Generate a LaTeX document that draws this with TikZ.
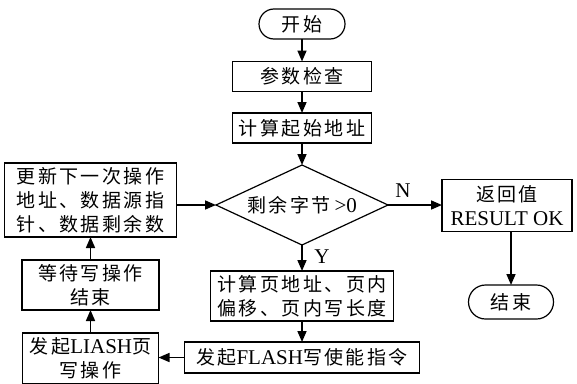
\documentclass[tikz,border=0pt]{standalone}
\usepackage{fontspec}
\setmainfont{Liberation Serif}
\newfontfamily\cjkfont[LetterSpace=13]{Noto Sans CJK SC}
\usetikzlibrary{arrows.meta,shapes.geometric}
% Latin runs inside the Chinese labels
\newcommand\lat[1]{{\rmfamily\fontsize{21}{24}\selectfont #1}}

\begin{document}
\begin{tikzpicture}[x=1pt,y=-1pt,
  every node/.style={font=\fontsize{19}{24}\selectfont\cjkfont, inner sep=0pt, outer sep=0pt},
  box/.style={draw, line width=1.2pt, align=center},
  term/.style={draw, line width=1.2pt},
  dia/.style={draw, line width=1.2pt, diamond, aspect=2.15},
  arr/.style={-{Triangle[length=11pt,width=9pt]}, line width=1.6pt}]
\useasboundingbox (0,0) rectangle (577,383);

% main column
\node[term, minimum width=86pt, minimum height=30pt, rounded corners=15pt] (start) at (302,24) {开始};
\node[box, minimum width=139pt, minimum height=30pt] (chk) at (302,76.5) {参数检查};
\node[box, minimum width=139pt, minimum height=30pt] (addr) at (302,128) {计算起始地址};
\node[dia, minimum width=172pt, minimum height=80pt] (dec) at (302,205) {剩余字节\hspace{4pt}\lat{>0}};
\node[box, minimum width=183pt, minimum height=50pt] (calc) at (302,296) {计算页地址、页内\\偏移、页内写长度};
\node[box, minimum width=235pt, minimum height=31pt] (wren) at (302,357.5) {发起\lat{FLASH}写使能指令};

% loop column
\node[box, minimum width=136pt, minimum height=51pt] (prog) at (90.5,358.5) {发起\lat{LIASH}页\\写操作};
\node[box, minimum width=137pt, minimum height=50pt] (wait) at (90.5,285) {等待写操作\\结束};
\node[box, minimum width=172pt, minimum height=74pt] (upd) at (90.5,200) {更新下一次操作\\地址、数据源指\\针、数据剩余数};

% exit column
\node[box, minimum width=130pt, minimum height=52pt] (ret) at (507,205.5) {返回值\\\lat{RESULT OK}};
\node[term, minimum width=85pt, minimum height=34pt, rounded corners=17pt] (fin) at (511,302) {结束};

% branch labels
\node (nlab) at (403,191) {\lat{N}};
\node (ylab) at (322,257) {\lat{Y}};

% connectors
\draw[arr] (start) -- (chk);
\draw[arr] (chk) -- (addr);
\draw[arr] (addr) -- (dec);
\draw[arr] (dec) -- (calc);
\draw[arr] (calc) -- (wren);
\draw[arr] (wren.west) -- (wren.west -| prog.east);
\draw[arr] (prog) -- (wait);
\draw[arr] (wait) -- (upd);
\draw[arr] (upd.east |- dec.west) -- (dec.west);
\draw[arr] (dec.east) -- (dec.east -| ret.west);
\draw[arr] (fin.north |- ret.south) -- (fin.north);
\end{tikzpicture}
\end{document}
